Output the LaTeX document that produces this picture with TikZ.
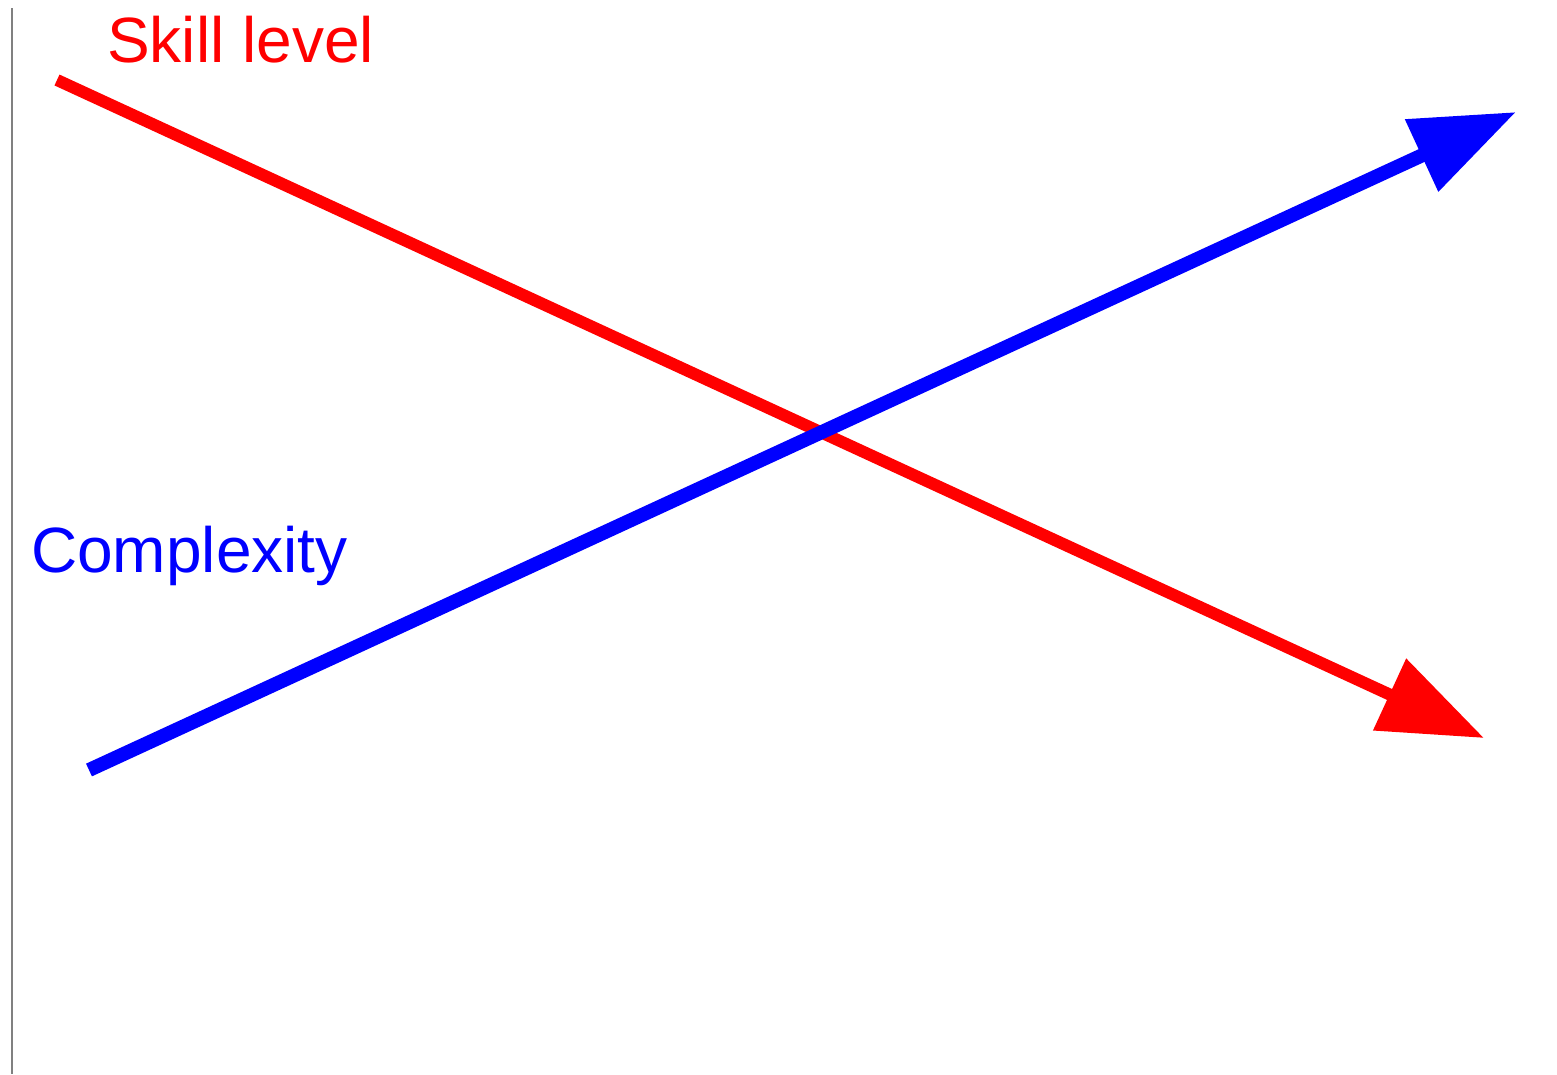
\documentclass[tikz,border=0pt]{standalone}
\usepackage{fontspec}
\setmainfont{Liberation Sans}
\usetikzlibrary{arrows.meta}
\begin{document}
\begin{tikzpicture}[x=1pt,y=-1pt,font=\fontsize{64}{76}\selectfont]
\definecolor{bordgris}{RGB}{128,128,128}
\tikzset{
  fleche/.style={-{Triangle[length=104pt,width=76pt]}},
  etiquette/.style={anchor=base west,inner sep=0pt}
}
\useasboundingbox (0,0) rectangle (1557,1074);
\draw[bordgris,line width=2pt] (12,8) -- (12,1074);
% les deux axes
\coordinate (skilldebut) at (57,80);
\coordinate (skillfin) at (1484,738);
\coordinate (cplxdebut) at (89,770);
\coordinate (cplxfin) at (1516,112);
\draw[fleche,red,line width=12pt] (skilldebut) -- (skillfin);
\draw[fleche,blue,line width=14pt] (cplxdebut) -- (cplxfin);
\node[etiquette,text=red] (skill) at (107,62) {Skill level};
\node[etiquette,text=blue] (cplx) at (31,572) {Complexity};
\end{tikzpicture}
\end{document}
